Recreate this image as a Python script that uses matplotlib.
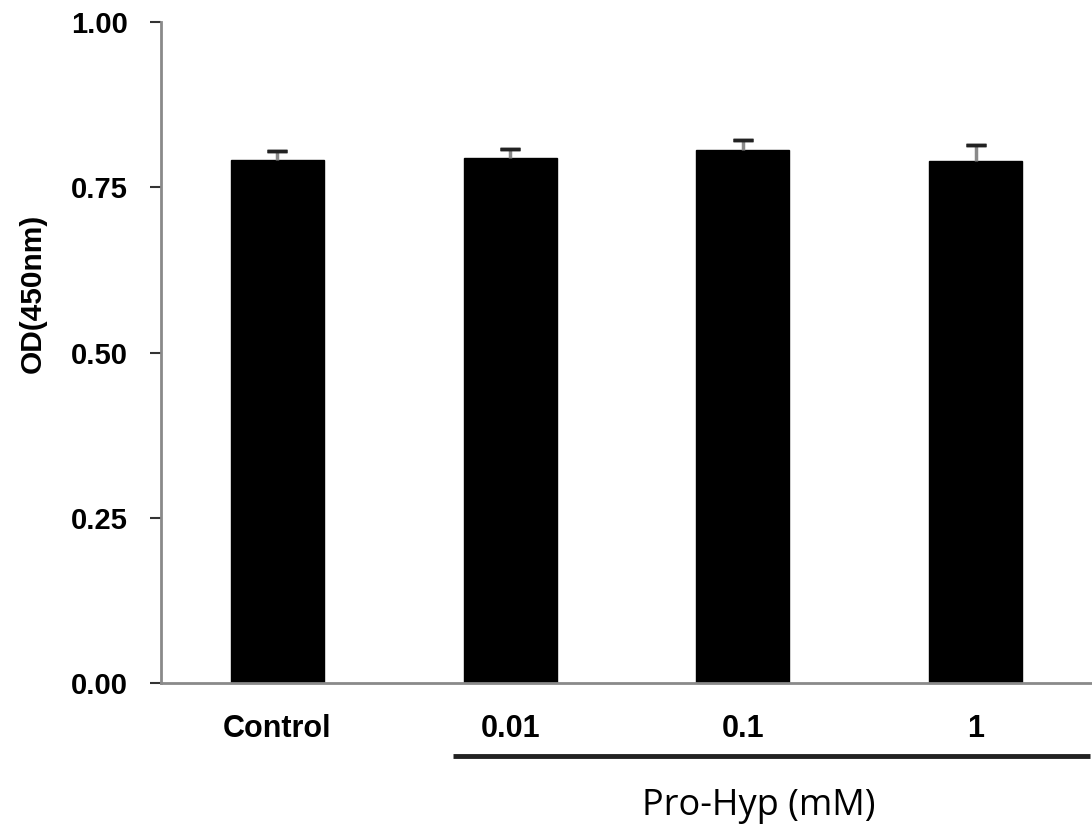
import numpy as np
import matplotlib
matplotlib.use('Agg')
import matplotlib.pyplot as plt

# data
groups = ['Control', '0.01', '0.1', '1']
od_mean = [0.791, 0.794, 0.807, 0.790]
od_err = [0.014, 0.014, 0.014, 0.024]
yticks = [0.00, 0.25, 0.50, 0.75, 1.00]

plt.rcParams['font.family'] = 'Liberation Sans'

fig = plt.figure(figsize=(10.92, 8.32), dpi=100)
ax = fig.add_axes([0.1474, 0.179, 0.8526, 0.7946])

x = np.arange(len(groups))
ax.bar(x, od_mean, width=0.4, color='black', edgecolor='black', zorder=2)

# grey stem, black cap (upper side only)
lower = np.zeros(len(groups))
ax.errorbar(x, od_mean, yerr=[lower, od_err], fmt='none', ecolor='#8a8a8a',
            elinewidth=2.5, capsize=0, zorder=3)
ax.errorbar(x, np.array(od_mean) + np.array(od_err), yerr=[lower, lower], fmt='none',
            ecolor='#222222', elinewidth=0, capsize=7, capthick=2.5, zorder=4)

ax.set_xlim(-0.5, 3.5)
ax.set_ylim(0, 1.0)
ax.set_yticks(yticks)
ax.set_yticklabels(['%.2f' % v for v in yticks], fontsize=21, fontweight='bold')
ax.set_xticks(x)
ax.set_xticklabels(groups, fontsize=22, fontweight='bold')
ax.tick_params(axis='x', length=0, pad=22)
ax.tick_params(axis='y', length=8, width=1.5, color='#333333', pad=16)

for s in ['top', 'right']:
    ax.spines[s].set_visible(False)
for s in ['left', 'bottom']:
    ax.spines[s].set_color('#8a8a8a')
    ax.spines[s].set_linewidth(2)

ax.set_ylabel('OD(450nm)', fontsize=21.5, fontweight='bold')
ax.yaxis.set_label_coords(-0.123, 0.59)

# bracket line under the Pro-Hyp doses
ax.plot([0.753, 3.49], [-0.110, -0.110], color='#222222', lw=3.5, clip_on=False,
        solid_capstyle='butt')
ax.text(2.07, -0.186, 'Pro-Hyp (mM)', ha='center', va='center', fontsize=26,
        family='Open Sans')

plt.savefig('out.png', dpi=100)
